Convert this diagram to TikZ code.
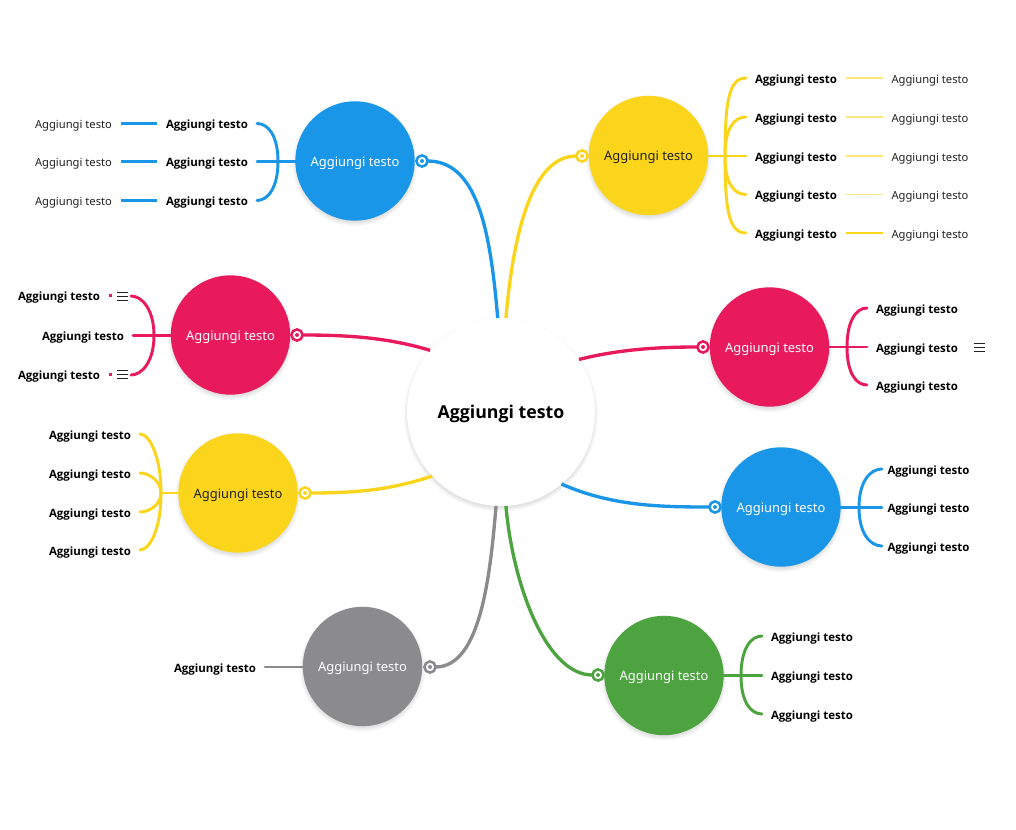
\documentclass[tikz,border=0pt]{standalone}
\usepackage{fontspec}
\setmainfont{Noto Sans}
\newfontfamily\heavyface{Open Sans}
\definecolor{cblue}{HTML}{1A96E8}
\definecolor{cpink}{HTML}{E81A5C}
\definecolor{cyellow}{HTML}{FBD41C}
\definecolor{cgrey}{HTML}{8B8B8E}
\definecolor{cgreen}{HTML}{4CA33F}
\definecolor{cpale}{HTML}{FCE680}
\definecolor{ink}{HTML}{222222}
\tikzset{
  topic/.style={circle,fill=#1,minimum size=89.5pt,inner sep=0pt,outer sep=0pt,text=white,text height=8pt,text depth=0pt,font=\fontsize{9.7pt}{12pt}\selectfont},
  hub/.style={circle,fill=white,minimum size=141pt,inner sep=0pt,outer sep=0pt,text=black,text height=10pt,text depth=0pt,font=\heavyface\fontsize{13.3pt}{15pt}\selectfont\bfseries},
  leafb/.style={inner sep=0pt,outer sep=0pt,minimum width=75pt,minimum height=10pt,text=black,text height=8pt,text depth=0pt,font=\heavyface\fontsize{8.6pt}{10pt}\selectfont\bfseries},
  leafr/.style={inner sep=0pt,outer sep=0pt,minimum width=70.5pt,minimum height=10pt,text=ink,text height=8pt,text depth=0pt,font=\fontsize{8.4pt}{10pt}\selectfont},
  ringmark/.style={circle,draw=#1,fill=white,line width=1.9pt,minimum size=8.4pt,inner sep=0pt,outer sep=0pt,
    path picture={\fill[#1] (path picture bounding box.center) circle (1.5pt);}},
  mainlink/.style={draw=#1,line width=2.5pt},
  branchlink/.style={draw=#1,line width=2.2pt,line cap=round},
  leaflink/.style={draw=#1,line width=2.2pt},
  palelink/.style={draw=#1,line width=.8pt},
}
\newcommand{\softshadow}[3]{%
  \foreach \k in {0,1,2,3,4}{\fill[black,opacity=.025] (#1,#2+2.5) circle ({#3+\k*0.75pt-0.75pt});}}
\newcommand{\menuicon}[2]{%
  \foreach \d in {-4,0,4}{\draw[ink,line width=.65pt] (#1-5.5,#2+\d) -- (#1+5.5,#2+\d);}}
\begin{document}
\begin{tikzpicture}[x=.75pt,y=-.75pt]
\useasboundingbox (0,0) rectangle (1016,830);
\fill[white] (0,0) rectangle (1016,830);
% shadows
\softshadow{501}{412}{70.5pt}
\softshadow{355}{161}{44.75pt}
\softshadow{648.5}{155.5}{44.75pt}
\softshadow{230.5}{335}{44.75pt}
\softshadow{769.5}{347}{44.75pt}
\softshadow{238}{493}{44.75pt}
\softshadow{781}{507}{44.75pt}
\softshadow{362.5}{666.5}{44.75pt}
\softshadow{664}{675.5}{44.75pt}
% circles
\node[hub] (C) at (501,412) {Aggiungi testo};
\node[topic=cblue] (TB) at (355,161) {Aggiungi testo};
\node[topic=cyellow,text=ink] (TY) at (648.5,155.5) {Aggiungi testo};
\node[topic=cpink] (LP) at (230.5,335) {Aggiungi testo};
\node[topic=cpink] (RP) at (769.5,347) {Aggiungi testo};
\node[topic=cyellow,text=ink] (LY) at (238,493) {Aggiungi testo};
\node[topic=cblue] (RB) at (781,507) {Aggiungi testo};
\node[topic=cgrey] (BG) at (362.5,666.5) {Aggiungi testo};
\node[topic=cgreen] (BN) at (664,675.5) {Aggiungi testo};
% ring marks
\node[ringmark=cblue] (rTB) at (422,161) {};
\node[ringmark=cyellow] (rTY) at (582,156) {};
\node[ringmark=cpink] (rLP) at (297,335) {};
\node[ringmark=cpink] (rRP) at (703,347) {};
\node[ringmark=cyellow] (rLY) at (305,493) {};
\node[ringmark=cblue] (rRB) at (715,507) {};
\node[ringmark=cgrey] (rBG) at (430,667) {};
\node[ringmark=cgreen] (rBN) at (598,675) {};
% main connectors
\path[mainlink=cblue] (rTB.east) .. controls +(52,0) and +(-7,-80) .. (C.92.4);
\path[mainlink=cyellow] (rTY.west) .. controls +(-46,0) and +(7,-80) .. (C.87);
\path[mainlink=cpink] (rLP.east) .. controls +(50,0) and +(-40,-12) .. (C.139.3);
\path[mainlink=cpink] (C.34.7) .. controls +(40,-10) and +(-40,0) .. (rRP.west);
\path[mainlink=cyellow] (rLY.east) .. controls +(50,0) and +(-40,13) .. (C.223.7);
\path[mainlink=cblue] (C.310.7) .. controls +(50,22) and +(-50,0) .. (rRB.west);
\path[mainlink=cgrey] (rBG.east) .. controls +(45,0) and +(-6,70) .. (C.267.5);
\path[mainlink=cgreen] (C.273.7) .. controls +(7,80) and +(-46,0) .. (rBN.west);
% top-left blue
\foreach \n/\y in {a/123.5,b/161.5,c/200.5}{
  \node[leafb] (tbb\n) at (207,\y) {Aggiungi testo};
  \node[leafr] (tbr\n) at (73.5,\y) {Aggiungi testo};
  \path[leaflink=cblue] (tbr\n.east) -- (tbb\n.west);
}
\coordinate (jTB) at (278,161.5);
\path[branchlink=cblue] (TB.west |- jTB) -- (tbbb.east);
\path[branchlink=cblue] (jTB) .. controls +(0,-26) and +(11,0) .. (tbba.east);
\path[branchlink=cblue] (jTB) .. controls +(0,26) and +(11,0) .. (tbbc.east);
% top-right yellow
\foreach \n/\y in {a/78,b/117,c/156,d/194.5,e/233}{
  \node[leafb] (tyb\n) at (796,\y) {Aggiungi testo};
  \node[leafr] (tyr\n) at (930,\y) {Aggiungi testo};
}
\path[palelink=cpale] (tyba.east) -- (tyra.west);
\path[palelink=cpale] (tybb.east) -- (tyrb.west);
\path[palelink=cpale] (tybc.east) -- (tyrc.west);
\path[palelink=cpale] (tybd.east) -- (tyrd.west);
\path[palelink=cyellow] (tybe.east) -- (tyre.west);
\coordinate (jTY) at (725,156);
\path[branchlink=cyellow] (TY.east |- jTY) -- (tybc.west);
\path[branchlink=cyellow] (jTY) .. controls +(0,-55) and +(-17,0) .. (tyba.west);
\path[branchlink=cyellow] (jTY) .. controls +(0,-26) and +(-13,0) .. (tybb.west);
\path[branchlink=cyellow] (jTY) .. controls +(0,26) and +(-13,0) .. (tybd.west);
\path[branchlink=cyellow] (jTY) .. controls +(0,55) and +(-17,0) .. (tybe.west);
% left pink
\node[leafb] (lpa) at (59,295.5) {Aggiungi testo};
\node[leafb] (lpb) at (83,335.5) {Aggiungi testo};
\node[leafb] (lpc) at (59,374.5) {Aggiungi testo};
\coordinate (jLP) at (154,335.5);
\coordinate (lpat) at (131,296);
\coordinate (lpct) at (131,375);
\coordinate (lpad) at (112,295.5);
\coordinate (lpcd) at (112,374.5);
\path[branchlink=cpink] (LP.west |- jLP) -- (lpb.east);
\path[branchlink=cpink] (jLP) .. controls +(0,-26) and +(11,0) .. (lpat);
\path[branchlink=cpink] (jLP) .. controls +(0,26) and +(11,0) .. (lpct);
\path[leaflink=cpink] (lpa.east) -- (lpad);
\path[leaflink=cpink] (lpc.east) -- (lpcd);
\menuicon{122}{296}
\menuicon{122}{374}
% right pink
\foreach \n/\y in {a/308,b/347,c/385}{\node[leafb] (rp\n) at (917,\y) {Aggiungi testo};}
\coordinate (jRP) at (847,347);
\path[branchlink=cpink] (RP.east) -- (rpb.west);
\path[branchlink=cpink] (jRP) .. controls +(0,-26) and +(-11,0) .. (rpa.west);
\path[branchlink=cpink] (jRP) .. controls +(0,26) and +(-11,0) .. (rpc.west);
\menuicon{979}{347}
% left yellow
\foreach \n/\y in {a/434,b/473,c/512,d/550}{\node[leafb] (ly\n) at (90,\y) {Aggiungi testo};}
\coordinate (jLY) at (161,493);
\path[branchlink=cyellow] (LY.west) -- (jLY);
\path[branchlink=cyellow] (jLY) .. controls +(0,-38) and +(9,0) .. (lya.east);
\path[branchlink=cyellow] (jLY) .. controls +(0,-12) and +(9,0) .. (lyb.east);
\path[branchlink=cyellow] (jLY) .. controls +(0,12) and +(9,0) .. (lyc.east);
\path[branchlink=cyellow] (jLY) .. controls +(0,38) and +(9,0) .. (lyd.east);
% right blue
\foreach \n/\y in {a/469,b/507.5,c/546}{\node[leafb,minimum width=70pt] (rb\n) at (928.5,\y) {Aggiungi testo};}
\coordinate (jRB) at (859,507.5);
\path[branchlink=cblue] (RB.east |- jRB) -- (rbb.west);
\path[branchlink=cblue] (jRB) .. controls +(0,-27) and +(-11,0) .. (rba.west);
\path[branchlink=cblue] (jRB) .. controls +(0,27) and +(-11,0) .. (rbc.west);
% grey
\node[leafb] (bga) at (215,667) {Aggiungi testo};
\path[branchlink=cgrey] (BG.west |- bga) -- (bga.east);
% green
\foreach \n/\y in {a/636,b/675.5,c/714}{\node[leafb] (bn\n) at (812,\y) {Aggiungi testo};}
\coordinate (jBN) at (741,675.5);
\path[branchlink=cgreen] (BN.east |- jBN) -- (bnb.west);
\path[branchlink=cgreen] (jBN) .. controls +(0,-27) and +(-11,0) .. (bna.west);
\path[branchlink=cgreen] (jBN) .. controls +(0,27) and +(-11,0) .. (bnc.west);
\end{tikzpicture}
\end{document}
